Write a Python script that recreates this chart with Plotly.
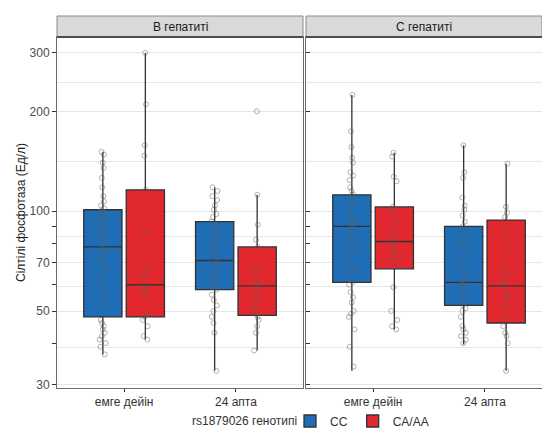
import numpy as np
import plotly.graph_objects as go

# ---------------- data ----------------
categories = ["емге дейін", "24 апта"]
panels = ["В гепатиті", "С гепатиті"]
genotypes = ["CC", "CA/AA"]
legend_title = "rs1879026 генотипі"

# box statistics per panel / genotype, ordered like categories
B_CC_q1 = [48, 58];  B_CC_med = [78, 71];  B_CC_q3 = [101, 93];  B_CC_lo = [37, 33];  B_CC_hi = [151, 118]
B_CA_q1 = [48, 48.5]; B_CA_med = [60, 59.5]; B_CA_q3 = [116, 78]; B_CA_lo = [41, 38]; B_CA_hi = [300, 112]
C_CC_q1 = [61, 52];  C_CC_med = [90, 61];  C_CC_q3 = [112, 90];  C_CC_lo = [33, 39.6]; C_CC_hi = [224, 158]
C_CA_q1 = [67, 46];  C_CA_med = [81, 59.5]; C_CA_q3 = [103, 94]; C_CA_lo = [44, 33]; C_CA_hi = [150, 139]

B_pre_CC = [151, 148, 140, 135, 126, 118, 111, 107, 104, 102, 100, 99, 97, 95, 92, 90, 88, 85, 83, 80,
            77, 75, 72, 70, 67, 64, 61, 58, 55, 52, 47, 46, 45, 44, 43, 42, 41, 40, 39, 37]
B_pre_CA = [300, 210, 158, 147, 116, 87, 67, 64, 60, 58, 57, 49, 48, 47, 45, 42, 41]
B_24_CC = [118, 115, 111, 108, 104, 101, 98, 96, 93, 91, 89, 87, 84, 82, 80, 78, 75, 73, 71, 70,
           68, 66, 63, 61, 59, 58, 56, 54, 52, 50, 48, 46, 43, 33]
B_24_CA = [200, 112, 91, 82, 78, 67, 62, 60, 59, 56, 54, 51, 49, 48, 47, 45, 43, 38]
C_pre_CC = [224, 174, 156, 145, 140, 131, 128, 124, 118, 115, 112, 108, 104, 99, 96, 93, 91, 89, 87, 84,
            80, 78, 75, 71, 67, 63, 61, 60, 57, 55, 53, 50, 49, 48, 44, 39, 34]
C_pre_CA = [150, 146, 127, 123, 103, 100, 94, 88, 83, 81, 78, 75, 72, 68, 59, 50, 47, 45, 44]
C_24_CC = [158, 131, 126, 110, 104, 101, 97, 93, 90, 86, 82, 80, 76, 71, 67, 64, 62, 61, 60, 59,
           57, 55, 52, 51, 50, 48, 45, 44, 43, 42, 41, 40]
C_24_CA = [139, 103, 99, 96, 88, 82, 76, 69, 65, 62, 60, 57, 55, 52, 48, 45, 43, 42, 40, 33]

y_ticks = [30, 50, 70, 100, 200, 300]
y_small_ticks = [40, 60, 80, 90]

# ---------------- styles ----------------
COL = {"CC": "#1f6db4", "CA/AA": "#e0282e"}
FONT = "Liberation Sans, Arial, sans-serif"
W, H = 542, 439
ML, MR, MT, MB = 57, 0, 37, 51
plot_w = W - ML - MR
plot_h = H - MT - MB

stats = {
    ("x", "y", "CC"): (B_CC_q1, B_CC_med, B_CC_q3, B_CC_lo, B_CC_hi),
    ("x", "y", "CA/AA"): (B_CA_q1, B_CA_med, B_CA_q3, B_CA_lo, B_CA_hi),
    ("x2", "y2", "CC"): (C_CC_q1, C_CC_med, C_CC_q3, C_CC_lo, C_CC_hi),
    ("x2", "y2", "CA/AA"): (C_CA_q1, C_CA_med, C_CA_q3, C_CA_lo, C_CA_hi),
}
points = {
    ("x", "y", "CC"): (B_pre_CC, B_24_CC),
    ("x", "y", "CA/AA"): (B_pre_CA, B_24_CA),
    ("x2", "y2", "CC"): (C_pre_CC, C_24_CC),
    ("x2", "y2", "CA/AA"): (C_pre_CA, C_24_CA),
}

fig = go.Figure()
for (xa, ya, g), (q1, med, q3, lo, hi) in stats.items():
    fig.add_trace(go.Box(
        x=categories, q1=q1, median=med, q3=q3, lowerfence=lo, upperfence=hi,
        name=g, legendgroup=g, showlegend=(xa == "x"), offsetgroup=g,
        fillcolor=COL[g], line=dict(color="#333333", width=1.3), whiskerwidth=0,
        boxpoints=False, xaxis=xa, yaxis=ya, hoverinfo="skip"))
for (xa, ya, g), (pre, post) in points.items():
    xs = [categories[0]] * len(pre) + [categories[1]] * len(post)
    fig.add_trace(go.Box(
        x=xs, y=list(pre) + list(post), name=g, legendgroup=g, showlegend=False, offsetgroup=g,
        boxpoints="all", jitter=0.2, pointpos=0,
        fillcolor="rgba(0,0,0,0)", line=dict(color="rgba(0,0,0,0)", width=0), whiskerwidth=0,
        marker=dict(symbol="circle-open", size=5, color="rgba(95,95,95,0.6)",
                    line=dict(width=0.8, color="rgba(95,95,95,0.6)")),
        xaxis=xa, yaxis=ya, hoverinfo="skip"))

# log range and grid
y_lo, y_hi = np.log10(29.3), np.log10(335)
mids = [float(np.sqrt(a * b)) for a, b in zip(y_ticks[:-1], y_ticks[1:])]
major_vals = sorted(y_ticks + y_small_ticks)
major_text = [str(v) if v in y_ticks else "" for v in major_vals]
grid_vals = sorted(y_ticks + mids)

unit_px = 246 / 2.2
d1 = 246 / plot_w
d2 = (306 - ML) / plot_w

common_x = dict(type="category", categoryorder="array", categoryarray=categories,
                showline=True, mirror=True, linecolor="#6b6b6b", linewidth=1,
                ticks="outside", ticklen=3, tickcolor="#333333", showgrid=False,
                tickfont=dict(size=12, color="#333333", family=FONT), zeroline=False)
common_y = dict(type="log", range=[y_lo, y_hi], tickmode="array", tickvals=major_vals,
                ticktext=major_text, showgrid=False, ticklen=4, tickcolor="#333333",
                linecolor="#6b6b6b", linewidth=1, showline=True, zeroline=False,
                tickfont=dict(size=12, color="#4d4d4d", family=FONT),
                minor=dict(tickmode="array", tickvals=grid_vals, showgrid=True,
                           gridcolor="#e6e6e6", gridwidth=1, ticklen=0))

leg_y = -33 / plot_h
fig.update_layout(
    width=W, height=H, margin=dict(l=ML, r=MR, t=MT, b=MB),
    paper_bgcolor="white", plot_bgcolor="white",
    font=dict(family=FONT, size=12, color="#333333"),
    boxmode="group", boxgap=0.24, boxgroupgap=0.1,
    xaxis=dict(domain=[0, d1], range=[-0.6, 1.6], **common_x),
    xaxis2=dict(domain=[d2, 1], range=[-0.6, -0.6 + (W - 306) / unit_px], **common_x),
    yaxis=dict(anchor="x", ticks="outside", mirror=True,
               title=dict(text="Сілтілі фосфотаза (Ед/л)", standoff=1,
                          font=dict(size=12, color="#1a1a1a", family=FONT)),
               **common_y),
    yaxis2=dict(anchor="x2", matches="y", ticks="inside", showticklabels=False, mirror=False,
                **common_y),
    legend=dict(orientation="h", x=(290 - ML) / plot_w, xanchor="left", y=leg_y, yanchor="middle",
                font=dict(size=12, color="#333333"), itemwidth=30,
                tracegroupgap=0, bgcolor="rgba(0,0,0,0)"),
)

strip_h = 21 / plot_h
shapes, annos = [], []
for xa, lab in zip(["x", "x2"], panels):
    shapes.append(dict(type="rect", xref=f"{xa} domain", yref="paper", x0=0, x1=1,
                       y0=1, y1=1 + strip_h, fillcolor="#d9d9d9",
                       line=dict(color="#8c8c8c", width=1), layer="above"))
    shapes.append(dict(type="line", xref=f"{xa} domain", yref="paper", x0=0, x1=1,
                       y0=1, y1=1, line=dict(color="#4d4d4d", width=2), layer="above"))
    annos.append(dict(text=lab, xref=f"{xa} domain", yref="paper", x=0.5, y=1 + strip_h / 2,
                      showarrow=False, xanchor="center", yanchor="middle",
                      font=dict(size=12, color="#1a1a1a", family=FONT)))
annos.append(dict(text=legend_title, xref="paper", yref="paper", x=(299 - ML) / plot_w, y=leg_y,
                  xanchor="right", yanchor="middle", showarrow=False,
                  font=dict(size=12, color="#333333", family=FONT)))
fig.update_layout(shapes=shapes, annotations=annos)

fig.write_html("out.html")
